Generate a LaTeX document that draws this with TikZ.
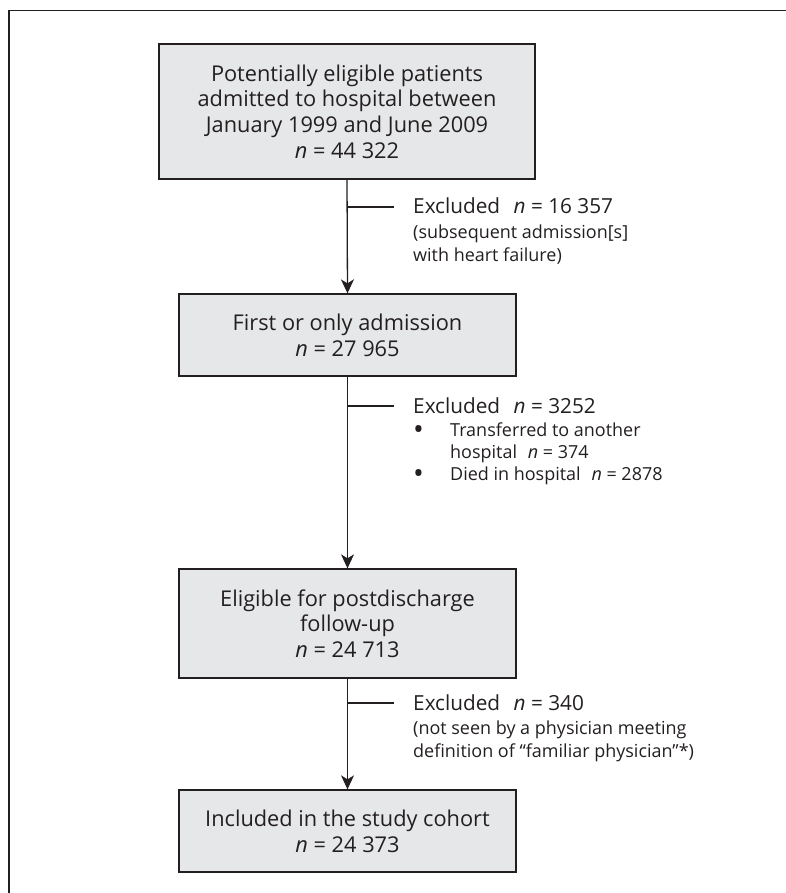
\documentclass[tikz,border=0pt]{standalone}
\usepackage{fontspec}
\setmainfont{Open Sans}
\usetikzlibrary{arrows.meta}
\definecolor{ink}{HTML}{231F20}
\definecolor{boxfill}{HTML}{E6E7E8}
\newlength\fitlen
\begin{document}
\settowidth\fitlen{\fontsize{10}{12}\selectfont Potentially eligible patients}%
\pgfmathsetmacro\boxfs{10*272/\fitlen}%
\settowidth\fitlen{\fontsize{10}{12}\selectfont Excluded}%
\pgfmathsetmacro\headfs{10*87/\fitlen}%
\settowidth\fitlen{\fontsize{10}{12}\selectfont (subsequent admission[s]}%
\pgfmathsetmacro\subfs{10*215/\fitlen}%
\pgfmathsetmacro\bulfs{1.6*\subfs}%
\newcommand\bigbul{\makebox[37pt][l]{\raisebox{-3.2pt}{\fontsize{\bulfs}{22}\selectfont •}}}%
\begin{tikzpicture}[x=1pt,y=-1pt,
  flowbox/.style={draw=ink, fill=boxfill, line width=1.3pt, align=center, inner sep=0pt, text=ink,
    font=\fontsize{\boxfs}{25.7}\selectfont},
  link/.style={draw=ink, line width=1.3pt, -{Stealth[length=14pt,width=13pt,inset=4pt]}},
  branch/.style={draw=ink, line width=1.3pt},
  exhead/.style={anchor=base west, inner sep=0pt, text=ink, font=\fontsize{\headfs}{22}\selectfont},
  exsub/.style={anchor=base west, inner sep=0pt, text=ink, font=\fontsize{\subfs}{22}\selectfont},
  frameline/.style={draw=ink, line width=1.5pt}]
\useasboundingbox (0,0) rectangle (786,893);
% outer frame (top and left edges visible)
\coordinate (fbl) at (9,893);
\coordinate (ftl) at (9,10.5);
\coordinate (ftr) at (786,10.5);
\draw[frameline] (fbl) -- (ftl) -- (ftr);

% boxes
\node[flowbox, minimum width=376pt, minimum height=135pt] (b1) at (347,111.5)
  {Potentially eligible patients\\admitted to hospital between\\January 1999 and June 2009\\\textit{n} = 44 322};
\node[flowbox, minimum width=337pt, minimum height=82pt] (b2) at (347.5,335)
  {First or only admission\\\textit{n} = 27 965};
\node[flowbox, minimum width=337pt, minimum height=109pt] (b3) at (347.5,623.5)
  {Eligible for postdischarge\\follow-up\\\textit{n} = 24 713};
\node[flowbox, minimum width=337pt, minimum height=82pt] (b4) at (347.5,831)
  {Included in the study cohort\\\textit{n} = 24 373};

% arrows
\draw[link] (b1.south) -- (b2.north);
\draw[link] (b2.south) -- (b3.north);
\draw[link] (b3.south) -- (b4.north);

% branches
\coordinate (s1) at (347,207);   \coordinate (e1) at (394,207);
\coordinate (s2) at (347,406);   \coordinate (e2) at (394,406);
\coordinate (s3) at (347,703);   \coordinate (e3) at (394,703);
\draw[branch] (s1) -- (e1);
\draw[branch] (s2) -- (e2);
\draw[branch] (s3) -- (e3);

% exclusion texts
\node[exhead] (x1a) at (413,214) {Excluded\hspace{0.65em}\textit{n} = 16 357};
\node[exsub] (x1b) at (413,239) {(subsequent admission[s]};
\node[exsub] (x1c) at (413,261) {with heart failure)};

\node[exhead] (x2a) at (413,413) {Excluded\hspace{0.65em}\textit{n} = 3252};
\node[exsub] (x2b) at (413,436) {\bigbul Transferred to another};
\node[exsub] (x2c) at (450,458) {hospital\hspace{0.6em}\textit{n} = 374};
\node[exsub] (x2d) at (413,480) {\bigbul Died in hospital\hspace{0.6em}\textit{n} = 2878};

\node[exhead] (x3a) at (413,710) {Excluded\hspace{0.65em}\textit{n} = 340};
\node[exsub] (x3b) at (413,734) {(not seen by a physician meeting};
\node[exsub] (x3c) at (413,757) {definition of “familiar physician”*)};
\end{tikzpicture}
\end{document}
